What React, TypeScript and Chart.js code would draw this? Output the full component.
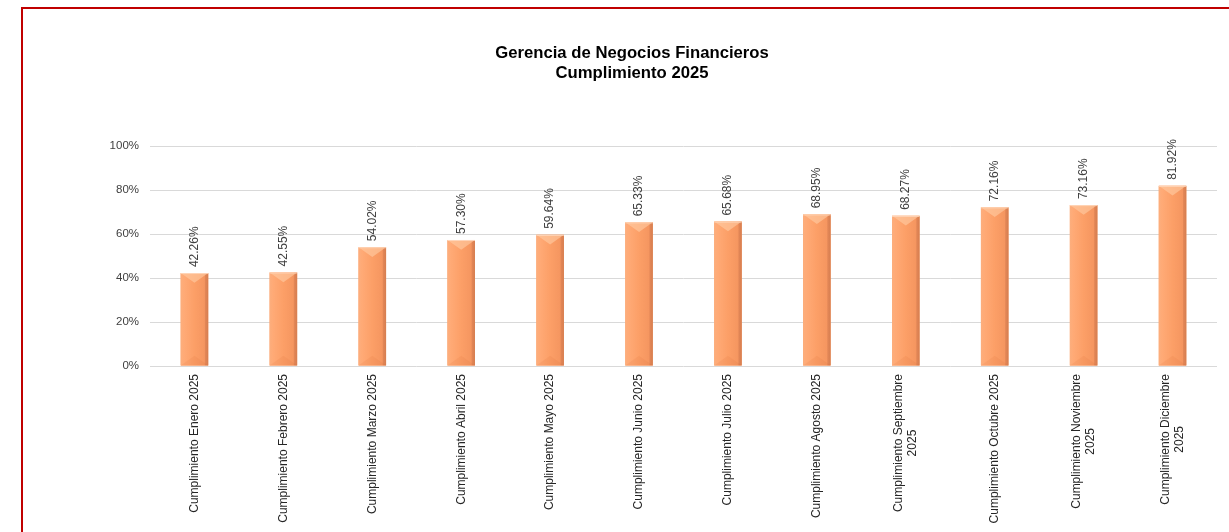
import React, { useEffect, useRef } from "react";
import { Chart, registerables } from "chart.js";

Chart.register(...registerables);

const categories: string[][] = [
  ["Cumplimiento Enero 2025"],
  ["Cumplimiento Febrero 2025"],
  ["Cumplimiento Marzo 2025"],
  ["Cumplimiento Abril 2025"],
  ["Cumplimiento Mayo 2025"],
  ["Cumplimiento Junio 2025"],
  ["Cumplimiento Julio 2025"],
  ["Cumplimiento Agosto 2025"],
  ["Cumplimiento Septiembre", "2025"],
  ["Cumplimiento Octubre 2025"],
  ["Cumplimiento Noviembre", "2025"],
  ["Cumplimiento Diciembre", "2025"],
];

const values: number[] = [42.26, 42.55, 54.02, 57.3, 59.64, 65.33, 65.68, 68.95, 68.27, 72.16, 73.16, 81.92];

const yTicks: number[] = [0, 20, 40, 60, 80, 100];

const titleLines: string[] = ["Gerencia de Negocios Financieros", "Cumplimiento 2025"];

const FONT = "'Liberation Sans', Arial, sans-serif";

const barStylePlugin = {
  id: "barStyle",
  afterDatasetsDraw(chart: any) {
    const ctx = chart.ctx as CanvasRenderingContext2D;
    const meta = chart.getDatasetMeta(0);
    meta.data.forEach((el: any, i: number) => {
      const { x, y, base, width } = el.getProps(["x", "y", "base", "width"], true);
      const l = x - width / 2;
      const r = x + width / 2;
      const t = Math.min(y, base);
      const b = Math.max(y, base);
      ctx.save();
      const g = ctx.createLinearGradient(l, 0, r, 0);
      g.addColorStop(0, "#FCAE7D");
      g.addColorStop(0.12, "#FFAA76");
      g.addColorStop(0.5, "#FC9F67");
      g.addColorStop(0.86, "#F59660");
      g.addColorStop(0.9, "#E28656");
      g.addColorStop(1, "#D67E50");
      ctx.fillStyle = g;
      ctx.fillRect(l, t, width, b - t);
      const d = Math.min(width * 0.32, (b - t) / 2);
      ctx.beginPath();
      ctx.moveTo(l, t);
      ctx.lineTo(r, t);
      ctx.lineTo(x, t + d * 1.1);
      ctx.closePath();
      ctx.fillStyle = "rgba(255,205,165,0.6)";
      ctx.fill();
      ctx.beginPath();
      ctx.moveTo(l, b);
      ctx.lineTo(r, b);
      ctx.lineTo(x, b - d * 1.1);
      ctx.closePath();
      ctx.fillStyle = "rgba(190,80,30,0.08)";
      ctx.fill();
      ctx.fillStyle = "rgba(255,220,195,0.8)";
      ctx.fillRect(l, t, width, 1);
      ctx.restore();

      ctx.save();
      ctx.translate(x, t - 6);
      ctx.rotate(-Math.PI / 2);
      ctx.font = `12px ${FONT}`;
      ctx.fillStyle = "#404040";
      ctx.textAlign = "left";
      ctx.textBaseline = "middle";
      ctx.fillText(values[i].toFixed(2) + "%", 0, 0);
      ctx.restore();
    });
  },
  afterDraw(chart: any) {
    const ctx = chart.ctx as CanvasRenderingContext2D;
    const xs = chart.scales.x;
    const top = chart.chartArea.bottom + 8;
    const lh = 14.5;
    ctx.save();
    ctx.font = `12px ${FONT}`;
    ctx.fillStyle = "#262626";
    ctx.textBaseline = "middle";
    ctx.textAlign = "center";
    categories.forEach((lines, i) => {
      const px = xs.getPixelForValue(i);
      const maxW = Math.max(...lines.map((s) => ctx.measureText(s).width));
      const n = lines.length;
      lines.forEach((s, k) => {
        ctx.save();
        ctx.translate(px + (k - (n - 1) / 2) * lh, top + maxW / 2);
        ctx.rotate(-Math.PI / 2);
        ctx.fillText(s, 0, 0);
        ctx.restore();
      });
    });
    ctx.restore();
  },
};

export default function App() {
  const ref = useRef<HTMLCanvasElement>(null);
  useEffect(() => {
    if (!ref.current) return;
    const chart = new Chart(ref.current, {
      type: "bar",
      data: {
        labels: categories.map((c) => c.join(" ")),
        datasets: [
          {
            data: values,
            backgroundColor: "#FC9F67",
            borderWidth: 0,
            barPercentage: 0.31,
            categoryPercentage: 1,
          },
        ],
      },
      options: {
        animation: false,
        responsive: false,
        maintainAspectRatio: false,
        events: [],
        layout: { padding: { left: 24, right: 24, top: 0, bottom: 0 } },
        plugins: {
          legend: { display: false },
          tooltip: { enabled: false },
          title: {
            display: true,
            text: titleLines,
            color: "#000000",
            font: { family: FONT, size: 16.7, weight: "bold", lineHeight: 1.2 },
            padding: { top: 34, bottom: 63 },
          },
        },
        scales: {
          x: {
            grid: { display: false },
            border: { display: false },
            ticks: { display: false },
            afterFit(scale: any) {
              scale.height = 166;
            },
          },
          y: {
            min: 0,
            max: 100,
            afterBuildTicks(scale: any) {
              scale.ticks = yTicks.map((v) => ({ value: v }));
            },
            grid: { color: "#D9D9D9", lineWidth: 1, drawTicks: false },
            border: { display: false },
            ticks: {
              padding: 11,
              color: "#404040",
              font: { family: FONT, size: 11.5 },
              callback: (v: any) => v + "%",
            },
            afterFit(scale: any) {
              scale.width = 103;
            },
          },
        },
      },
      plugins: [barStylePlugin],
    });
    return () => chart.destroy();
  }, []);

  return (
    <div
      style={{
        position: "fixed",
        left: 0,
        top: 0,
        width: 1229,
        height: 532,
        overflow: "hidden",
        background: "#ffffff",
      }}
    >
      <div
        style={{
          position: "absolute",
          left: 21,
          top: 7,
          width: 1300,
          height: 600,
          border: "2px solid #C00000",
          boxSizing: "border-box",
        }}
      />
      <canvas
        ref={ref}
        width={1218}
        height={523}
        style={{ position: "absolute", left: 23, top: 9, width: 1218, height: 523 }}
      />
    </div>
  );
}
